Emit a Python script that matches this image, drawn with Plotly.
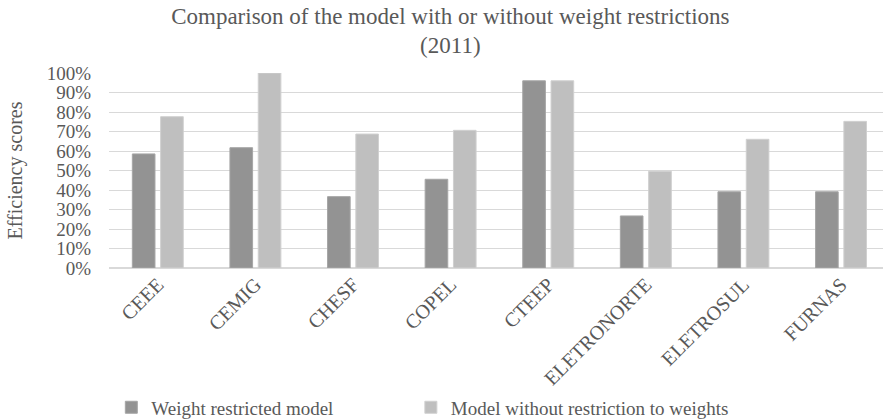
import plotly.graph_objects as go

categories = ["CEEE", "CEMIG", "CHESF", "COPEL", "CTEEP", "ELETRONORTE", "ELETROSUL", "FURNAS"]
restricted = [0.585, 0.617, 0.366, 0.455, 0.96, 0.267, 0.391, 0.391]
unrestricted = [0.776, 1.00, 0.687, 0.706, 0.96, 0.496, 0.66, 0.752]
y_ticks = [i / 10 for i in range(11)]

FONT = "Liberation Serif"
TXT = "#595959"

fig = go.Figure()
fig.add_trace(go.Bar(x=categories, y=restricted, name="Weight restricted model",
                     legend="legend",
                     marker=dict(color="#939393", line=dict(color="#a6a6a6", width=1))))
fig.add_trace(go.Bar(x=categories, y=unrestricted, name="Model without restriction to weights",
                     legend="legend2",
                     marker=dict(color="#bfbfbf", line=dict(color="#d0d0d0", width=1))))

leg_common = dict(orientation="h", xanchor="left", y=-0.715, yanchor="middle",
                  font=dict(family=FONT, size=19, color=TXT), itemwidth=30,
                  bgcolor="rgba(0,0,0,0)")

fig.update_layout(
    width=883, height=420,
    margin=dict(l=109, r=0, t=73, b=152, autoexpand=False),
    paper_bgcolor="white", plot_bgcolor="white",
    font=dict(family=FONT, color=TXT, size=18),
    title=dict(text="Comparison of the model with or without weight restrictions<br>(2011)",
               x=0.51, xanchor="center", yref="container", y=0.944, yanchor="middle",
               font=dict(family=FONT, size=23, color=TXT)),
    barmode="group", bargap=0.42, bargroupgap=0.2,
    showlegend=True,
    legend=dict(x=0.003, **leg_common),
    legend2=dict(x=0.39, **leg_common),
    xaxis=dict(range=[-0.5, 7.43], tickangle=-45, showgrid=False, showline=False,
               automargin=False,
               ticks="", tickfont=dict(family=FONT, size=20, color=TXT)),
    yaxis=dict(range=[0, 1.0], tickvals=y_ticks, tickformat=".0%", showgrid=True,
               automargin=False,
               gridcolor="#d9d9d9", gridwidth=1, zeroline=True, zerolinecolor="#d9d9d9",
               ticks="", ticklen=0, ticklabelstandoff=17,
               tickfont=dict(family=FONT, size=19, color=TXT),
               title=dict(text="Efficiency scores", standoff=18,
                          font=dict(family=FONT, size=20, color=TXT))),
)

fig.write_html("out.html", config={"displayModeBar": False},
               post_script="document.body.style.margin='0';document.body.style.overflow='hidden';")
